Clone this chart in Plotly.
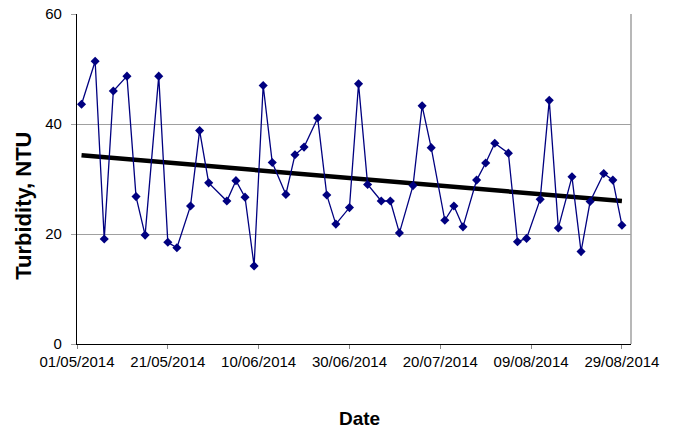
import numpy as np
import pandas as pd
import plotly.graph_objects as go

dates = ["2014-05-02","2014-05-05","2014-05-07","2014-05-09","2014-05-12","2014-05-14","2014-05-16",
         "2014-05-19","2014-05-21","2014-05-23","2014-05-26","2014-05-28","2014-05-30",
         "2014-06-03","2014-06-05","2014-06-07","2014-06-09","2014-06-11","2014-06-13",
         "2014-06-16","2014-06-18","2014-06-20","2014-06-23","2014-06-25","2014-06-27",
         "2014-06-30","2014-07-02","2014-07-04","2014-07-07","2014-07-09","2014-07-11",
         "2014-07-14","2014-07-16","2014-07-18","2014-07-21","2014-07-23","2014-07-25",
         "2014-07-28","2014-07-30","2014-08-01","2014-08-04","2014-08-06","2014-08-08",
         "2014-08-11","2014-08-13","2014-08-15","2014-08-18","2014-08-20","2014-08-22",
         "2014-08-25","2014-08-27","2014-08-29"]
turbidity = [43.6, 51.4, 19.1, 46.0, 48.7, 26.8, 19.8, 48.7, 18.5, 17.5, 25.1, 38.8, 29.3,
             26.0, 29.7, 26.7, 14.2, 47.0, 33.0, 27.2, 34.4, 35.8, 41.1, 27.1, 21.8,
             24.8, 47.3, 29.0, 26.0, 26.0, 20.2, 28.8, 43.3, 35.7, 22.5, 25.1, 21.3,
             29.8, 32.9, 36.5, 34.7, 18.6, 19.2, 26.3, 44.3, 21.1, 30.4, 16.8, 25.9,
             31.0, 29.8, 21.6]
tick_dates = ["2014-05-01","2014-05-21","2014-06-10","2014-06-30","2014-07-20","2014-08-09","2014-08-29"]
tick_labels = ["01/05/2014","21/05/2014","10/06/2014","30/06/2014","20/07/2014","09/08/2014","29/08/2014"]
y_ticks = [0, 20, 40, 60]
x_title = "Date"
y_title = "Turbidity, NTU"

d = pd.to_datetime(dates)
days = (d - d[0]).days.values.astype(float)
slope, intercept = np.polyfit(days, np.array(turbidity), 1)
trend_x = [d[0], d[-1]]
trend_y = [intercept, intercept + slope * days[-1]]

fig = go.Figure()
fig.add_trace(go.Scatter(x=trend_x, y=trend_y, mode="lines",
                         line=dict(color="black", width=4.5), showlegend=False))
fig.add_trace(go.Scatter(x=d, y=turbidity, mode="lines+markers",
                         line=dict(color="#000080", width=1.3),
                         marker=dict(symbol="diamond", size=7, color="#000080"),
                         showlegend=False))

font = "Liberation Sans, Arial, sans-serif"
fig.update_layout(
    width=677, height=432,
    margin=dict(l=77, r=46, t=14, b=88),
    paper_bgcolor="white", plot_bgcolor="white",
    font=dict(family=font, size=15, color="black"),
    xaxis=dict(range=["2014-05-01", "2014-08-31"], tickvals=tick_dates, ticktext=tick_labels,
               showgrid=False, showline=True, linecolor="black", linewidth=1.3,
               ticks="outside", ticklen=4, tickcolor="#888888",
               tickfont=dict(size=15), zeroline=False, automargin=False),
    yaxis=dict(range=[0, 60], tickvals=y_ticks, showgrid=True, gridcolor="#A0A0A0", gridwidth=1,
               showline=True, linecolor="black", linewidth=1.3,
               ticks="outside", ticklen=5, tickcolor="#A0A0A0", ticklabelstandoff=6,
               tickfont=dict(size=15), zeroline=False, automargin=False),
    shapes=[dict(type="line", xref="paper", yref="paper", x0=1, x1=1, y0=0, y1=1,
                 line=dict(color="#A0A0A0", width=1.5))],
    annotations=[
        dict(text="<b>" + y_title + "</b>", xref="paper", yref="paper", x=-0.098, y=0.418,
             xanchor="center", yanchor="middle", textangle=-90, showarrow=False,
             font=dict(size=22)),
        dict(text="<b>" + x_title + "</b>", xref="paper", yref="paper", x=0.51, y=-0.226,
             xanchor="center", yanchor="middle", showarrow=False, font=dict(size=19)),
    ],
)
fig.write_html("out.html", config={"displayModeBar": False},
               post_script="document.body.style.margin='0';document.body.style.overflow='hidden';")
